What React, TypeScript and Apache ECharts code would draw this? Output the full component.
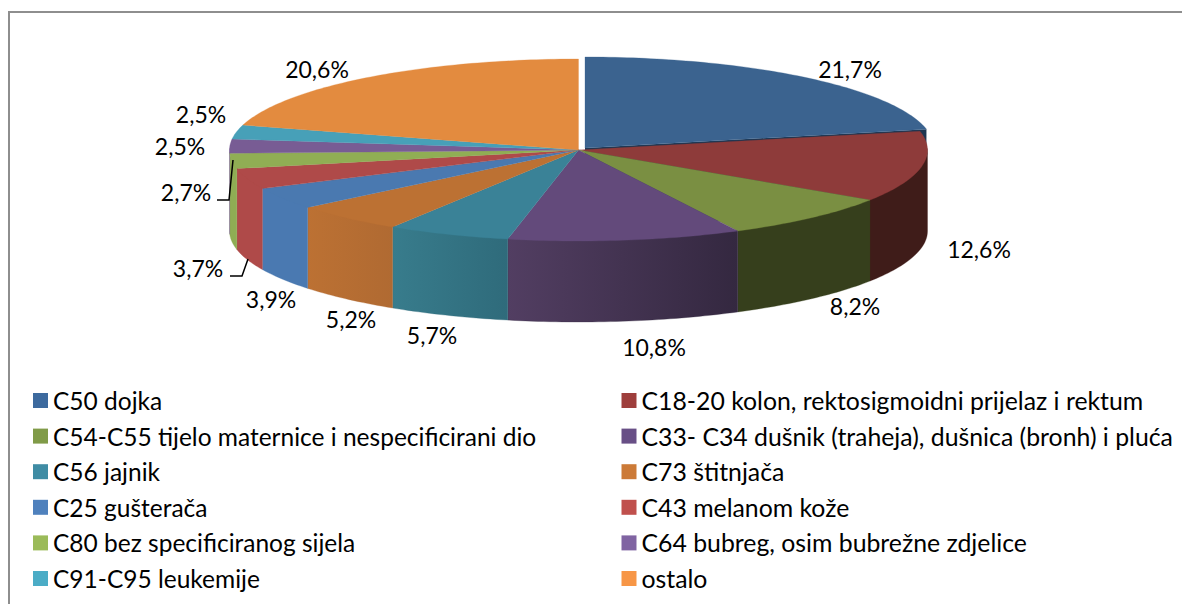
import React, { useEffect, useRef } from "react";
import * as echarts from "echarts";

const categories = [
  "C50 dojka",
  "C18-20 kolon, rektosigmoidni prijelaz i rektum",
  "C54-C55 tijelo maternice i nespecificirani dio",
  "C33- C34 dušnik (traheja), dušnica (bronh) i pluća",
  "C56 jajnik",
  "C73 štitnjača",
  "C25 gušterača",
  "C43 melanom kože",
  "C80 bez specificiranog sijela",
  "C64 bubreg, osim bubrežne zdjelice",
  "C91-C95 leukemije",
  "ostalo",
];
const values = [21.7, 12.6, 8.2, 10.8, 5.7, 5.2, 3.9, 3.7, 2.7, 2.5, 2.5, 20.6];
const legendColors = ["#3d6a9e", "#9e3e3c", "#809b48", "#684f86", "#3f8ca4", "#cc7a37", "#4f81bd", "#c0504d", "#9bbb59", "#8064a2", "#4bacc6", "#f79646"];
const topColors = ["#3b638f", "#8e3b3a", "#7a8f42", "#634a7b", "#3a8297", "#bc7133", "#4a79b0", "#af4a49", "#90ae54", "#785c94", "#47a0b8", "#e38b3f"];
const wallStart = ["#1d3550", "#3f1c19", "#363f1c", "#523e62", "#387c8c", "#bc7133", "#4a79b1", "#af4a49", "#8fad54", "#785c94", "#47a0b8", "#e38b3f"];
const wallEnd = ["#1d3550", "#3f1c19", "#363f1c", "#342840", "#2f6b7b", "#b06a32", "#4a79b1", "#af4a49", "#8fad54", "#785c94", "#47a0b8", "#e38b3f"];
const labelCenters = [
  [850, 69], [979, 249], [855, 306], [654, 347], [432, 335], [351, 319],
  [271, 299], [198, 268], [186, 192], [180, 146], [201, 114], [317, 69],
];

const FONT = "Lato";
const CX = 578.5, CY = 150, RX = 349, RY = 91, DEPTH = 81;
const total = values.reduce((a, b) => a + b, 0);
const starts = values.map((_, i) => values.slice(0, i).reduce((a, b) => a + b, 0));
const offset = (i: number) => (i === 0 ? [6.5, -2] : [0, 0]);
const pt = (deg: number, i: number, dy = 0) => {
  const r = (deg * Math.PI) / 180;
  const [ox, oy] = offset(i);
  return [CX + ox + RX * Math.sin(r), CY + oy - RY * Math.cos(r) + dy];
};
const arc = (a: number, b: number, i: number, dy = 0) => {
  const pts: number[][] = [];
  const n = Math.max(2, Math.ceil(Math.abs(b - a)));
  for (let k = 0; k <= n; k++) pts.push(pt(a + ((b - a) * k) / n, i, dy));
  return pts;
};

function wallItem(params: any, api: any) {
  const i = params.dataIndex;
  const v = api.value(0);
  const a = (starts[i] / total) * 360;
  const b = a + (v / total) * 360;
  const children: any[] = [];
  const [ox, oy] = offset(i);
  if (i === 0) {
    // cut face of the pulled-out slice, seen behind the next slice
    const tip = pt(b, i);
    children.push({
      type: "polygon",
      shape: { points: [[CX + ox, CY + oy], tip, [tip[0], tip[1] + DEPTH], [CX + ox, CY + oy + DEPTH]] },
      style: { fill: wallStart[i] },
    });
  }
  const s = Math.max(a, 90), e = Math.min(b, 270);
  if (e > s) {
    // the upper edge tucks under the top face so that no seam shows
    const top = arc(s, e, i, -1.5);
    const bottom = arc(e, s, i, DEPTH);
    children.push({
      type: "polygon",
      shape: { points: [...top, ...bottom] },
      style: {
        fill: new echarts.graphic.LinearGradient(1, 0, 0, 0, [
          { offset: 0, color: wallEnd[i] },
          { offset: 1, color: wallStart[i] },
        ]),
        stroke: wallEnd[i],
        lineWidth: 0.3,
      },
    });
  }
  return { type: "group", children };
}

const topIndexOf = (name: string) => categories.indexOf(name);

function topItem(params: any, api: any) {
  const i = topIndexOf(params.seriesName);
  const v = api.value(0);
  const a = (starts[i] / total) * 360;
  const b = a + (v / total) * 360;
  const [ox, oy] = offset(i);
  return {
    type: "polygon",
    shape: { points: [[CX + ox, CY + oy], ...arc(a, b, i)] },
    style: { fill: topColors[i], stroke: topColors[i], lineWidth: 0.3 },
  };
}

function labelItem(params: any, api: any) {
  const i = params.dataIndex;
  const [x, y] = labelCenters[i];
  return {
    type: "text",
    x,
    y,
    style: {
      text: `${api.value(0).toFixed(1).replace(".", ",")}%`,
      fill: "#000",
      font: `23px ${FONT}`,
      align: "center",
      verticalAlign: "middle",
    },
  };
}

export default function App() {
  const ref = useRef<HTMLDivElement>(null);
  useEffect(() => {
    document.body.style.margin = "0";
    const chart = echarts.init(ref.current!, undefined, { renderer: "svg" });
    const legendBase = {
      orient: "vertical" as const,
      top: 388,
      height: 300,
      padding: 0,
      itemWidth: 15,
      itemHeight: 15,
      itemGap: 10.6,
      icon: "rect",
      selectedMode: false,
      textStyle: { fontFamily: FONT, fontSize: 24.5, lineHeight: 24, color: "#000" },
    };
    chart.setOption({
      animation: false,
      backgroundColor: "#fff",
      legend: [
        { ...legendBase, left: 33, data: categories.filter((_, i) => i % 2 === 0) },
        { ...legendBase, left: 621.5, textStyle: { ...legendBase.textStyle, fontSize: 24.8 }, data: categories.filter((_, i) => i % 2 === 1) },
      ],
      graphic: [
        { type: "polyline", shape: { points: [[9, 604], [9, 12], [1182, 12]] }, style: { stroke: "#8e8e8e", lineWidth: 2, fill: "none" }, z: 0 },
        { type: "polyline", shape: { points: [[217, 200], [229, 200], [233, 160]] }, style: { stroke: "#000", lineWidth: 1.5, fill: "none" }, z: 10 },
        { type: "polyline", shape: { points: [[230, 276], [242, 276], [248, 259]] }, style: { stroke: "#000", lineWidth: 1.5, fill: "none" }, z: 10 },
      ],
      series: [
        { type: "custom", name: "walls", coordinateSystem: "none", z: 1, silent: true, renderItem: wallItem, data: values.map((v) => [v]) },
        ...categories.map((name, i) => ({
          type: "custom",
          name,
          coordinateSystem: "none",
          z: 2,
          silent: true,
          itemStyle: { color: legendColors[i] },
          renderItem: topItem,
          data: [[values[i]]],
        })),
        { type: "custom", name: "labels", coordinateSystem: "none", z: 5, silent: true, renderItem: labelItem, data: values.map((v) => [v]) },
      ],
    });
    return () => chart.dispose();
  }, []);
  return <div ref={ref} style={{ width: 1182, height: 604 }} />;
}
